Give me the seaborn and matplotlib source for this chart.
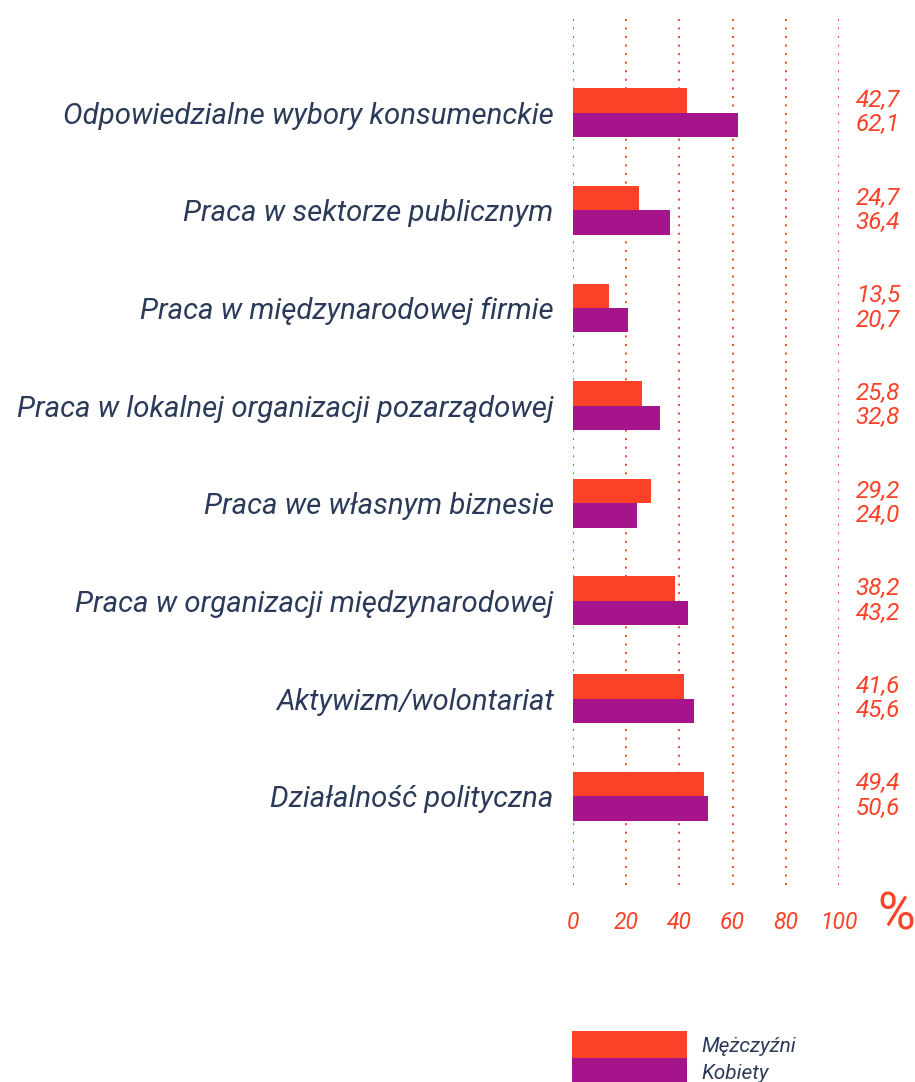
import matplotlib
matplotlib.use("Agg")
import matplotlib.pyplot as plt
import matplotlib.transforms as mtransforms
from matplotlib.patches import Patch
import pandas as pd
import seaborn as sns

# data
categories = [
    "Odpowiedzialne wybory konsumenckie",
    "Praca w sektorze publicznym",
    "Praca w międzynarodowej firmie",
    "Praca w lokalnej organizacji pozarządowej",
    "Praca we własnym biznesie",
    "Praca w organizacji międzynarodowej",
    "Aktywizm/wolontariat",
    "Działalność polityczna",
]
men = [42.7, 24.7, 13.5, 25.8, 29.2, 38.2, 41.6, 49.4]
women = [62.1, 36.4, 20.7, 32.8, 24.0, 43.2, 45.6, 50.6]
series = ["Mężczyźni", "Kobiety"]
x_ticks = [0, 20, 40, 60, 80, 100]

ORANGE = "#FB4127"
PURPLE = "#A6148C"
NAVY = "#2B3A58"

df = pd.DataFrame({
    "kategoria": categories * 2,
    "wartosc": men + women,
    "plec": [series[0]] * len(men) + [series[1]] * len(women),
})

sns.set_theme(style="white")
plt.rcParams["font.family"] = ["Roboto", "DejaVu Sans"]

fig = plt.figure(figsize=(9.15, 10.82), dpi=100)
W, H = 915, 1082
ax = fig.add_axes([573 / W, 1 - 885 / H, (839 - 573) / W, (885 - 15) / H])

sns.barplot(data=df, y="kategoria", x="wartosc", hue="plec", orient="h",
            palette=[ORANGE, PURPLE], width=0.5, saturation=1, legend=False,
            order=categories, hue_order=series, linewidth=0, ax=ax)

ax.set_xlim(0, 100)
ax.set_ylim(7.91, -1.0)
ax.set_xticks(x_ticks)
ax.set_xticklabels([str(t) for t in x_ticks], fontstyle="italic", fontsize=16.5, color=ORANGE)
ax.tick_params(axis="x", length=0, pad=19)
ax.tick_params(axis="y", length=0, pad=14)
for lbl in ax.get_yticklabels():
    lbl.set_fontstyle("italic")
    lbl.set_fontsize(21.2)
    lbl.set_color(NAVY)
ax.set_xlabel("")
ax.set_ylabel("")
for s in ax.spines.values():
    s.set_visible(False)
ax.set_axisbelow(True)
ax.grid(axis="x", color=ORANGE, linestyle=(0, (1, 3.4)), linewidth=1.4)
ax.grid(axis="y", visible=False)

# value labels to the right
trans = mtransforms.blended_transform_factory(fig.transFigure, ax.transData)
for i, (m, w) in enumerate(zip(men, women)):
    ax.text(900 / W, i - 0.125, f"{m:.1f}".replace(".", ","), transform=trans,
            ha="right", va="center", fontsize=17.5, fontstyle="italic", color=ORANGE)
    ax.text(900 / W, i + 0.125, f"{w:.1f}".replace(".", ","), transform=trans,
            ha="right", va="center", fontsize=17.5, fontstyle="italic", color=ORANGE)

fig.text(896 / W, 1 - 916 / H, "%", ha="center", va="center", fontsize=37, color=ORANGE)

handles = [Patch(facecolor=ORANGE, edgecolor="none"), Patch(facecolor=PURPLE, edgecolor="none")]
fig.legend(handles, series, loc="upper left", bbox_to_anchor=(572 / W, 1 - 1031 / H),
           frameon=False, borderpad=0, borderaxespad=0, labelspacing=0,
           handlelength=5.5, handleheight=1.65, handletextpad=0.7,
           prop={"size": 15, "style": "italic"}, labelcolor=NAVY)

fig.savefig("out.png", dpi=100)
